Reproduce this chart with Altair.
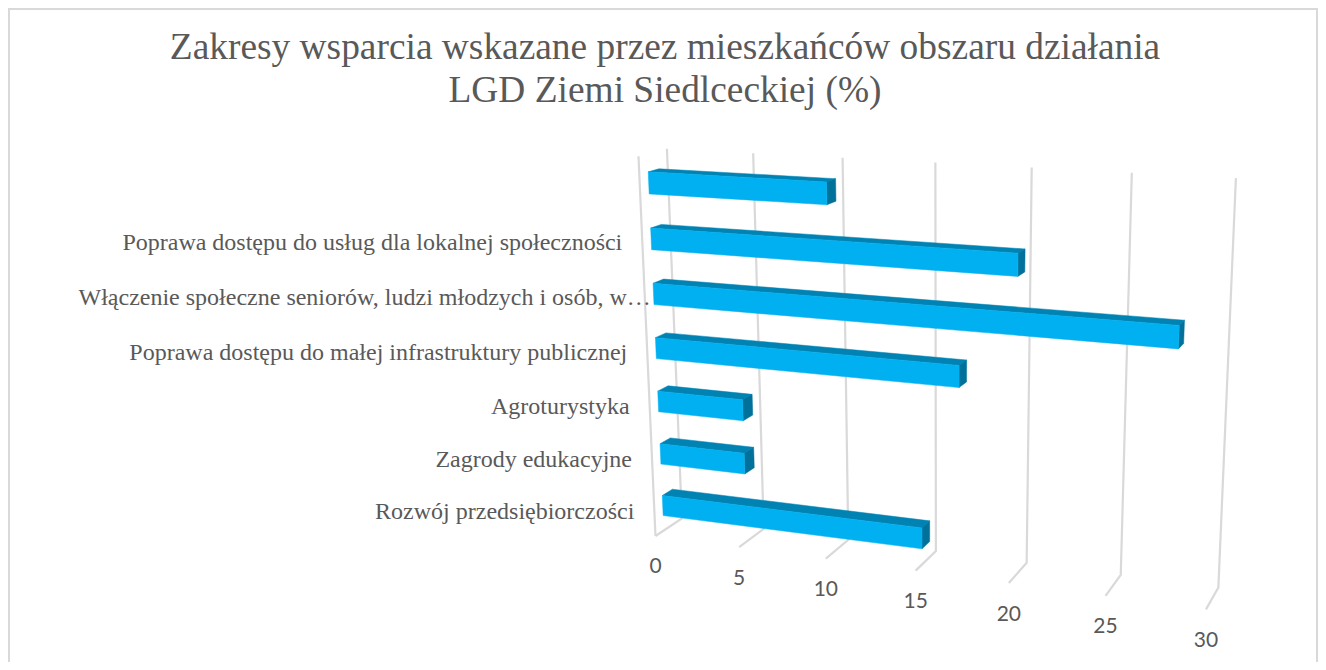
import altair as alt
import pandas as pd

TITLE = ["Zakresy wsparcia wskazane przez mieszkańców obszaru działania", "LGD Ziemi Siedlceckiej (%)"]
CATEGORIES = ["Rozwój przedsiębiorczości", "Zagrody edukacyjne", "Agroturystyka",
              "Poprawa dostępu do małej infrastruktury publicznej",
              "Włączenie społeczne seniorów, ludzi młodzych i osób, w…",
              "Poprawa dostępu do usług dla lokalnej społeczności", ""]
VALUES = [15, 5, 5, 17, 28, 20, 10]
TICKS = [0, 5, 10, 15, 20, 25, 30]

# Perspective camera of the 3D box: (value, category height, depth) -> page pixel
CAM_X = [14.1771, -7.49801, 45.9235, 655.482]
CAM_Y = [0.337791, -55.4918, -2.81419, 535.965]
CAM_W = [-0.00346026, -0.00794055, 0.0285846, 1]


def project(v, h, d):
    w = CAM_W[0]*v + CAM_W[1]*h + CAM_W[2]*d + CAM_W[3]
    x = CAM_X[0]*v + CAM_X[1]*h + CAM_X[2]*d + CAM_X[3]
    y = CAM_Y[0]*v + CAM_Y[1]*h + CAM_Y[2]*d + CAM_Y[3]
    return x / w, y / w


W, H = 1310, 654
xs = alt.Scale(domain=[8, 8 + W], range=[0, W])
ys = alt.Scale(domain=[8, 8 + H], range=[0, H])
X = alt.X("px:Q", scale=xs, axis=None)
Y = alt.Y("py:Q", scale=ys, axis=None)

GAP, D0, D1 = 0.305, 0.31, 0.69
front, top, end = [], [], []
for c, val in enumerate(VALUES):
    lo, hi = c + GAP, c + 1 - GAP
    faces = {
        "front": [(0, lo, D0), (val, lo, D0), (val, hi, D0), (0, hi, D0)],
        "top": [(0, hi, D0), (val, hi, D0), (val, hi, D1), (0, hi, D1)],
        "end": [(val, lo, D0), (val, lo, D1), (val, hi, D1), (val, hi, D0)],
    }
    for name, store in (("front", front), ("top", top), ("end", end)):
        q = faces[name]
        for k, p in enumerate(q + q[:1]):
            x, y = project(*p)
            store.append({"bar": c, "k": k, "px": x, "py": y + 0.7})

grid = []
for t in TICKS:
    for k, p in enumerate([(t, 7, 1), (t, 0, 1), (t, 0, 0)]):
        x, y = project(*p)
        grid.append({"g": t, "k": k, "px": x, "py": y})
for k, p in enumerate([(0, 7, 0), (0, 0, 0)]):
    x, y = project(*p)
    grid.append({"g": -1, "k": k, "px": x, "py": y})


def poly(rows, color):
    return alt.Chart(pd.DataFrame(rows)).mark_line(fill=color, stroke=color, strokeWidth=0.5).encode(
        x=X, y=Y, detail="bar:N", order="k:Q")


grid_layer = alt.Chart(pd.DataFrame(grid)).mark_line(color="#D9D9D9", strokeWidth=2.2).encode(
    x=X, y=Y, detail="g:N", order="k:Q")

tick_rows = []
for t in TICKS:
    x, y = project(t, 0, 0)
    tick_rows.append({"px": x, "py": y + 31.5, "label": str(t)})
tick_layer = alt.Chart(pd.DataFrame(tick_rows)).mark_text(
    font="Lato", fontSize=21, color="#595959", baseline="middle").encode(x=X, y=Y, text="label:N")

cat_rows = []
for c, name in enumerate(CATEGORIES):
    x, y = project(0, c + 0.5, 0)
    cat_rows.append({"px": x - 20 + (26 if name.endswith("…") else 0), "py": y + 1.5, "label": name})
cat_layer = alt.Chart(pd.DataFrame(cat_rows)).mark_text(
    font="Liberation Serif", fontSize=24, color="#595959", align="right", baseline="middle").encode(
    x=X, y=Y, text="label:N")

border = pd.DataFrame({"px": [9, 9, 1317, 1317], "py": [662, 9, 9, 662], "k": [0, 1, 2, 3]})
border_layer = alt.Chart(border).mark_line(color="#D9D9D9", strokeWidth=2).encode(x=X, y=Y, order="k:Q")

chart = alt.layer(
    border_layer, grid_layer, poly(top, "#0083B3"), poly(end, "#00719B"), poly(front, "#00B0F0"),
    tick_layer, cat_layer,
).properties(
    width=W, height=H, padding=0, autosize="none",
    title=alt.Title(TITLE, anchor="middle", font="Liberation Serif", fontSize=37.4, fontWeight="normal",
                    color="#595959", lineHeight=43, dy=146, dx=2, baseline="bottom"),
).configure_view(stroke=None)
chart.save("out.html", embed_options={"renderer": "svg", "actions": False})
